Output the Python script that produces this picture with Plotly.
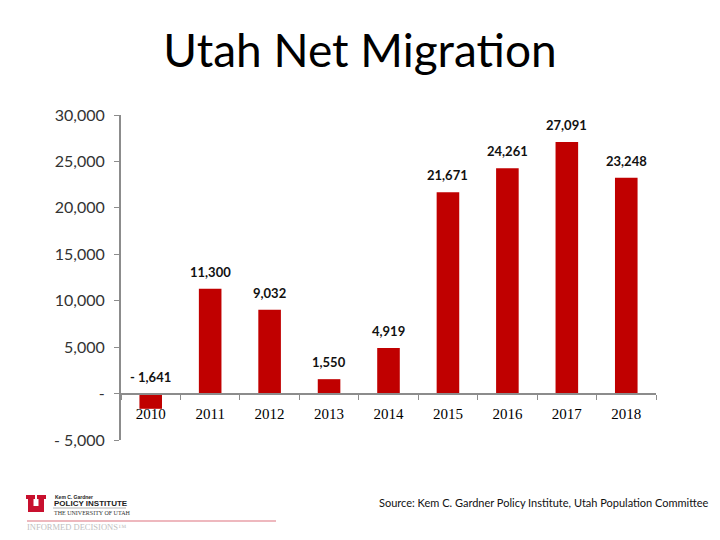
import plotly.graph_objects as go

years = ["2010", "2011", "2012", "2013", "2014", "2015", "2016", "2017", "2018"]
net_migration = [-1641, 11300, 9032, 1550, 4919, 21671, 24261, 27091, 23248]
y_ticks = [-5000, 0, 5000, 10000, 15000, 20000, 25000, 30000]


def fmt(v):
    if v == 0:
        return "-"
    if v < 0:
        return "- {:,}".format(-v)
    return "{:,}".format(v)


BAR_RED = "#C00000"
AXIS_GRAY = "#8C8C8C"
Y_MIN, Y_MAX = -5000, 30000
ML, MR, MT, MB = 121, 64, 115, 100
W, H = 720, 540

fig = go.Figure()
fig.add_trace(go.Bar(
    x=years, y=net_migration, marker=dict(color=BAR_RED, line=dict(width=0)),
    width=0.38, showlegend=False, hoverinfo="x+y",
))

for i, v in enumerate(net_migration):
    fig.add_annotation(
        x=i, y=max(v, 0), xref="x", yref="y", text=fmt(v), showarrow=False,
        yanchor="bottom", yshift=7,
        font=dict(family="Lato", size=13, color="#111111", weight="bold"),
    )

zero_pos = (0 - Y_MIN) / (Y_MAX - Y_MIN)

fig.update_layout(
    width=W, height=H,
    margin=dict(l=ML, r=MR, t=MT, b=MB, autoexpand=False),
    paper_bgcolor="white", plot_bgcolor="white",
    title=dict(text="Utah Net Migration", x=0.5, xref="container", xanchor="center",
               y=1 - 51 / H, yref="container", yanchor="middle",
               font=dict(family="Lato", size=46, color="#000000")),
    xaxis=dict(
        type="category", anchor="free", position=zero_pos, range=[-0.5, len(years) - 0.5],
        autorange=False, automargin=False,
        showline=True, linecolor=AXIS_GRAY, linewidth=2,
        ticks="outside", tickson="boundaries", ticklen=5, tickcolor=AXIS_GRAY, tickwidth=1,
        showgrid=False, zeroline=False, tickangle=0, ticklabelstandoff=6,
        tickfont=dict(family="Liberation Serif", size=15, color="#000000"),
    ),
    yaxis=dict(
        range=[Y_MIN, Y_MAX], autorange=False, automargin=False,
        tickvals=y_ticks, ticktext=[fmt(v) for v in y_ticks],
        showline=True, linecolor=AXIS_GRAY, linewidth=2,
        ticks="outside", ticklen=5, tickcolor=AXIS_GRAY, tickwidth=1,
        showgrid=False, zeroline=False, ticklabelstandoff=6,
        tickfont=dict(family="Lato", size=16, color="#333333"),
    ),
)


def px(x):
    return (x - ML) / (W - ML - MR)


def py(y):
    return (H - MB - y) / (H - MT - MB)


# Source note
fig.add_annotation(
    x=px(711), y=py(502), xref="paper", yref="paper",
    text="Source: Kem C. Gardner Policy Institute, Utah Population Committee",
    showarrow=False, xanchor="right", yanchor="middle",
    font=dict(family="Lato", size=11, color="#111111"),
)

# Logo: block "U"
u_pts = [(26, 495), (35, 495), (35, 499), (33.5, 499), (33.5, 506), (38.5, 506), (38.5, 499),
         (37, 499), (37, 495), (46, 495), (46, 499), (44, 499), (44, 512), (28, 512), (28, 499), (26, 499)]
u_path = "M " + " L ".join("{:.5f},{:.5f}".format(px(a), py(b)) for a, b in u_pts) + " Z"
fig.add_shape(type="path", xref="paper", yref="paper", path=u_path,
              fillcolor="#C8102E", line=dict(width=0))
fig.add_annotation(x=px(53), y=py(497), xref="paper", yref="paper", text="<b>Kem C. Gardner</b>", showarrow=False,
                   xanchor="left", yanchor="middle", font=dict(family="Liberation Sans", size=5, color="#222222"))
fig.add_annotation(x=px(52), y=py(503), xref="paper", yref="paper", text="<b>POLICY INSTITUTE</b>", showarrow=False,
                   xanchor="left", yanchor="middle", font=dict(family="Liberation Sans", size=8, color="#222222"))
fig.add_annotation(x=px(52), y=py(513), xref="paper", yref="paper", text="THE UNIVERSITY OF UTAH", showarrow=False,
                   xanchor="left", yanchor="middle", font=dict(family="Liberation Serif", size=6, color="#333333"))
fig.add_annotation(x=px(25), y=py(527), xref="paper", yref="paper", text="INFORMED DECISIONS™", showarrow=False,
                   xanchor="left", yanchor="middle", font=dict(family="Liberation Serif", size=8.5, color="#C0C0C0"))
fig.add_shape(type="line", xref="paper", yref="paper", x0=px(53), x1=px(126), y0=py(508), y1=py(508),
              line=dict(color="#A0A0A0", width=0.8))
fig.add_shape(type="line", xref="paper", yref="paper", x0=px(27), x1=px(276), y0=py(521), y1=py(521),
              line=dict(color="#E8A0A8", width=1.5))

fig.write_html("out.html", post_script="document.body.style.margin='0';",
               config={"displayModeBar": False})
